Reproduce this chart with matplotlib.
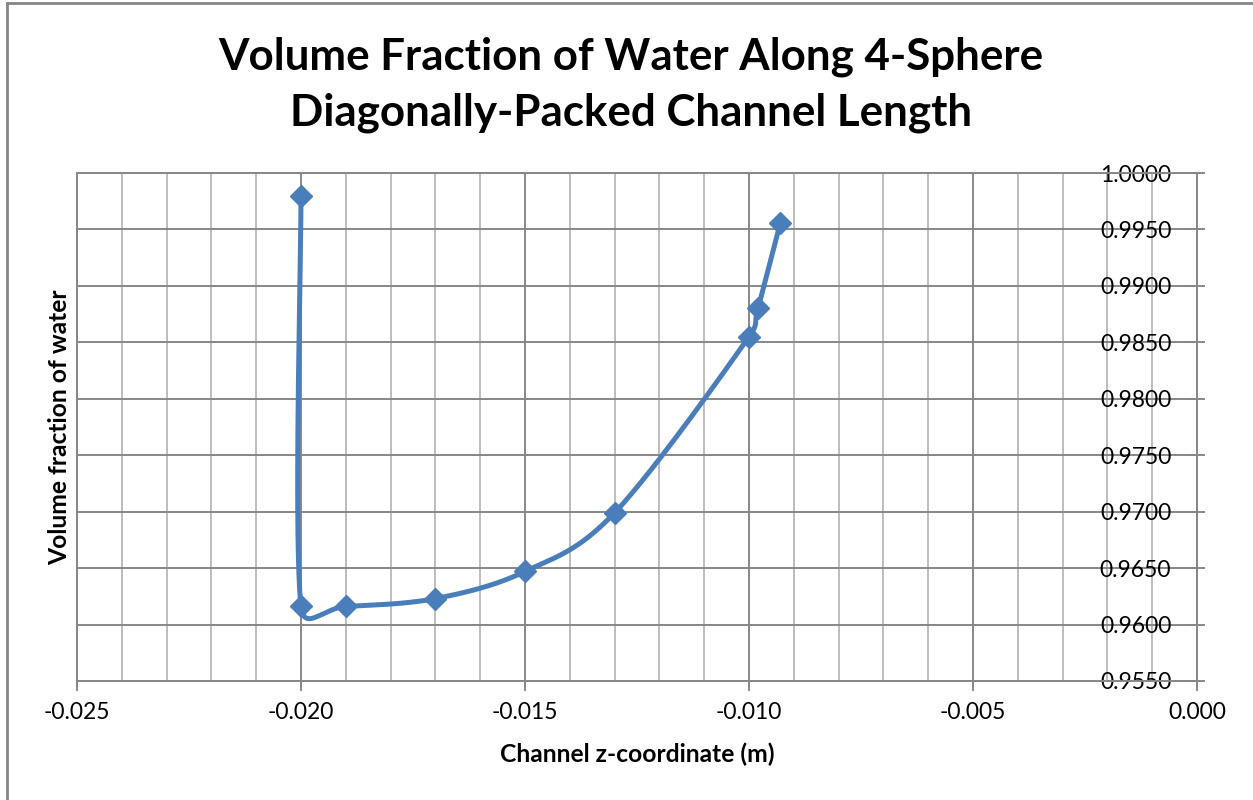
import numpy as np
import matplotlib.pyplot as plt
from matplotlib.lines import Line2D
from matplotlib.ticker import MultipleLocator, FuncFormatter

# Data
z = [-0.0200, -0.0200, -0.0190, -0.0170, -0.0150, -0.0130, -0.0100, -0.0098, -0.0093]
vf = [0.9980, 0.9616, 0.9616, 0.9623, 0.9647, 0.9699, 0.9855, 0.9880, 0.9956]

# plot area in pixels
PW, PH = 1120, 508


def smooth(x, y, n=60, t=1/6, lim=0.6):
    # Bezier segments with Catmull-Rom style handles, worked out in pixel
    # space, handle length capped relative to the segment it belongs to
    sx = PW / 0.025
    sy = PH / 0.045
    P = np.column_stack([np.asarray(x, float) * sx, np.asarray(y, float) * sy])
    P = np.vstack([P[0], P, P[-1]])
    s = np.linspace(0, 1, n)[:, None]
    out = []
    for i in range(1, len(P) - 2):
        p0, p1, p2, p3 = P[i - 1], P[i], P[i + 1], P[i + 2]
        seg = np.hypot(*(p2 - p1))
        h1 = (p2 - p0) * t
        h2 = (p3 - p1) * t
        for h in (h1, h2):
            L = np.hypot(*h)
            if L > lim * seg:
                h *= lim * seg / L
        c1 = p1 + h1
        c2 = p2 - h2
        b = ((1 - s) ** 3 * p1 + 3 * (1 - s) ** 2 * s * c1
             + 3 * (1 - s) * s ** 2 * c2 + s ** 3 * p2)
        out.append(b)
    b = np.vstack(out)
    return b[:, 0] / sx, b[:, 1] / sy


def fmt(dec):
    return FuncFormatter(lambda v, p: f'{0.0 if abs(v) < 1e-12 else v:.{dec}f}')


plt.rcParams['font.family'] = ['Lato', 'DejaVu Sans']

fig = plt.figure(figsize=(12.53, 8), dpi=100)
ax = fig.add_axes([77 / 1253, 1 - 681 / 800, PW / 1253, PH / 800])

line_color = '#4a7ebb'
cx, cy = smooth(z, vf)
ax.plot(cx, cy, color=line_color, linewidth=3.6, solid_capstyle='round',
        zorder=3)
ax.plot(z, vf, linestyle='none', marker='D', markersize=11,
        color=line_color, zorder=4)

ax.set_xlim(-0.025, 0.0)
ax.set_ylim(0.955, 1.0)
ax.xaxis.set_major_locator(MultipleLocator(0.005))
ax.xaxis.set_minor_locator(MultipleLocator(0.001))
ax.yaxis.set_major_locator(MultipleLocator(0.005))
ax.xaxis.set_major_formatter(fmt(3))
ax.yaxis.set_major_formatter(fmt(4))

ax.grid(which='major', color='#878787', linewidth=1.4, zorder=0)
ax.grid(which='minor', axis='x', color='#bdbdbd', linewidth=1.4, zorder=0)
ax.set_axisbelow(True)

for side in ['top', 'left', 'bottom', 'right']:
    ax.spines[side].set_color('#878787')
    ax.spines[side].set_linewidth(1.4)

ax.tick_params(axis='x', which='major', direction='out', length=7,
               width=1.4, color='#878787', labelsize=16.5, pad=8)
ax.tick_params(axis='x', which='minor', length=0)
# value axis sits at z = 0 with labels on its inner side
ax.yaxis.tick_right()
ax.tick_params(axis='y', which='major', direction='inout', length=12,
               width=1.4, color='#878787', labelsize=16.5, pad=-24.5)
for lbl in ax.get_yticklabels():
    lbl.set_horizontalalignment('right')

ax.set_xlabel('Channel z-coordinate (m)', fontsize=17.7, fontweight='bold',
              labelpad=14)
ax.set_ylabel('Volume fraction of water', fontsize=17.7, fontweight='bold',
              labelpad=4)
ax.yaxis.set_label_position('left')

fig.text(631 / 1253, 1 - 85 / 800, 'Volume Fraction of Water Along 4-Sphere\n'
         'Diagonally-Packed Channel Length', ha='center', va='center',
         fontsize=31.6, fontweight='bold', linespacing=1.48)

# chart frame
fig.add_artist(Line2D([7 / 1253, 7 / 1253], [0, 1 - 3 / 800],
                      transform=fig.transFigure, color='#868686', linewidth=2))
fig.add_artist(Line2D([7 / 1253, 1], [1 - 3 / 800, 1 - 3 / 800],
                      transform=fig.transFigure, color='#868686', linewidth=2))

fig.savefig('out.png', dpi=100)
